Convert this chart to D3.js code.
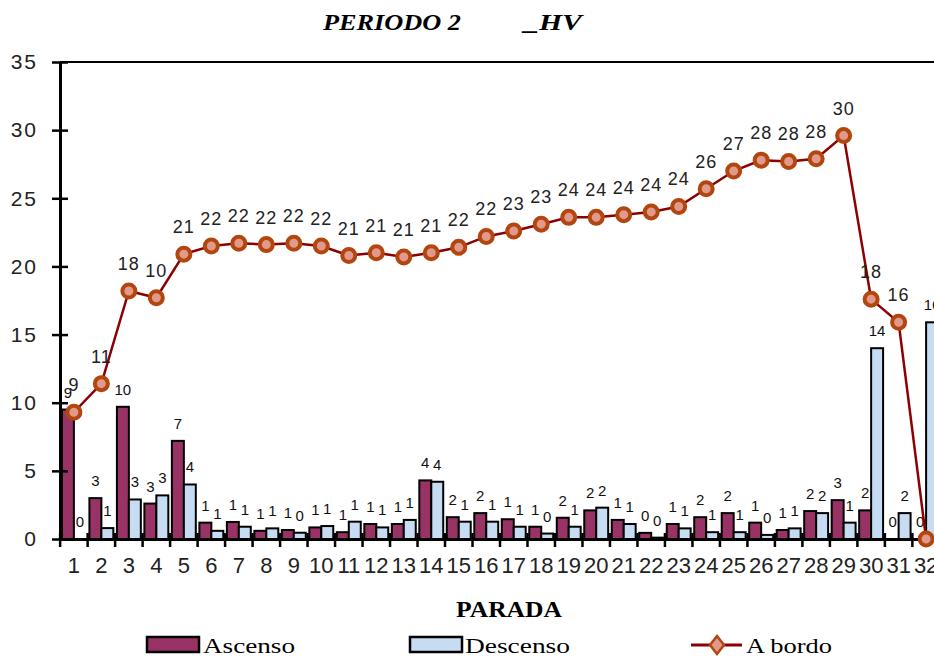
<!DOCTYPE html>
<html><head><meta charset="utf-8">
<script src="https://cdn.jsdelivr.net/npm/d3@7"></script>
<style>body{margin:0;background:#fff;overflow:hidden} svg{display:block}</style>
</head><body><svg id="c" width="934" height="660"></svg>
<script>
const categories = ["1","2","3","4","5","6","7","8","9","10","11","12","13","14","15","16","17","18","19","20","21","22","23","24","25","26","27","28","29","30","31","32"];
const ascenso  = [9.5,3.0,9.7,2.6,7.2,1.2,1.25,0.6,0.66,0.85,0.5,1.1,1.1,4.3,1.6,1.9,1.45,0.9,1.56,2.1,1.4,0.45,1.1,1.6,1.9,1.2,0.66,2.05,2.85,2.1,0,0];
const descenso = [0,0.8,2.9,3.2,4.0,0.6,0.9,0.78,0.46,0.95,1.27,0.85,1.4,4.2,1.27,1.27,0.9,0.4,0.9,2.3,1.1,0.1,0.78,0.5,0.5,0.3,0.78,1.9,1.2,14.0,1.9,15.9];
const aBordo   = [9.3,11.4,18.2,17.7,20.9,21.5,21.7,21.6,21.7,21.5,20.8,21.0,20.7,21.0,21.4,22.2,22.6,23.1,23.6,23.6,23.8,24.0,24.4,25.7,27.0,27.8,27.7,27.9,29.6,17.6,15.9,0];
const ascLabels  = ["9","3","10","3","7","1","1","1","1","1","1","1","1","4","2","2","1","1","2","2","1","0","1","2","2","1","1","2","3","2","0","0"];
const descLabels = ["0","1","3","3","4","1","1","1","0","1","1","1","1","4","1","1","1","0","1","2","1","0","1","1","1","0","1","2","1","14","2","16"];
const aBordoLabels = ["9","11","18","10","21","22","22","22","22","22","21","21","21","21","22","22","23","23","24","24","24","24","24","26","27","28","28","28","30","18","16",""];
const yTicks = [0,5,10,15,20,25,30,35];
const seriesNames = ["Ascenso","Descenso","A bordo"];
const titleParts = ["PERIODO 2","_HV"];
const xTitle = "PARADA";

const svg = d3.select("#c");
const L = 60, R = 940, T = 62, B = 539;
const sans = "'Liberation Sans', Arial, sans-serif";
const serif = "'Liberation Serif', 'Times New Roman', serif";
const ascColor = "#993366", descColor = "#c6dcf3", lineColor = "#8b0000";
const mkFill = "#e0998a", mkStroke = "#b3460e";

const x = d3.scaleBand().domain(categories).range([L, R]).paddingInner(0.13).paddingOuter(0.07);
const xs = d3.scaleBand().domain(["a","d"]).range([0, x.bandwidth()]);
const y = d3.scaleLinear().domain([0, 35]).range([B, T]);
const cx = c => x(c) + x.bandwidth() / 2;

// top border
svg.append("line").attr("x1", L).attr("x2", 934).attr("y1", T).attr("y2", T)
  .attr("stroke", "#000").attr("stroke-width", 2);

// bars
const g = svg.append("g");
categories.forEach((c, i) => {
  [["a", ascenso[i], ascColor, ascLabels[i]], ["d", descenso[i], descColor, descLabels[i]]].forEach(([k, v, col, lab]) => {
    const bx = x(c) + xs(k);
    g.append("rect").attr("x", bx).attr("y", y(v)).attr("width", xs.bandwidth())
      .attr("height", Math.max(0, B - y(v))).attr("fill", col).attr("stroke", "#000").attr("stroke-width", 2);
    g.append("text").attr("x", bx + xs.bandwidth() / 2).attr("y", y(v) - 12)
      .attr("text-anchor", "middle").attr("font-family", sans).attr("font-size", 15)
      .attr("fill", "#111").text(lab);
  });
});

// y axis
const ya = svg.append("g").attr("transform", `translate(${L},0)`)
  .call(d3.axisLeft(y).tickValues(yTicks).tickSizeInner(8).tickSizeOuter(0).tickPadding(14));
ya.select(".domain").attr("stroke-width", 3);
ya.selectAll(".tick line").attr("x1", -8).attr("x2", 8).attr("stroke-width", 2.5);
ya.selectAll(".tick text").attr("font-family", sans).attr("font-size", 21)
  .attr("letter-spacing", 2).attr("fill", "#222");

// x axis
const xa = svg.append("g").attr("transform", `translate(0,${B})`)
  .call(d3.axisBottom(x).tickSize(0).tickPadding(18));
xa.select(".domain").attr("stroke-width", 3);
xa.selectAll(".tick text").attr("font-family", sans).attr("font-size", 22).attr("fill", "#222");
const half = (x.step() - x.bandwidth()) / 2;
const bounds = categories.map(c => x(c) - half).concat([x(categories[categories.length - 1]) + x.bandwidth() + half]);
svg.append("g").selectAll("line").data(bounds).join("line")
  .attr("x1", d => d).attr("x2", d => d).attr("y1", B - 6).attr("y2", B + 8)
  .attr("stroke", "#000").attr("stroke-width", 2.5);

// line
const lineGen = d3.line().x((d, i) => cx(categories[i])).y(d => y(d));
svg.append("path").datum(aBordo).attr("d", lineGen).attr("fill", "none")
  .attr("stroke", lineColor).attr("stroke-width", 2.5);
svg.append("g").selectAll("circle").data(aBordo).join("circle")
  .attr("cx", (d, i) => cx(categories[i])).attr("cy", d => y(d)).attr("r", 6.5)
  .attr("fill", mkFill).attr("stroke", mkStroke).attr("stroke-width", 4);
svg.append("g").selectAll("text").data(aBordo).join("text")
  .attr("x", (d, i) => cx(categories[i])).attr("y", d => y(d) - 21)
  .attr("text-anchor", "middle").attr("font-family", sans).attr("font-size", 18)
  .attr("letter-spacing", 1).attr("fill", "#222").text((d, i) => aBordoLabels[i]);

// title
svg.append("text").attr("x", 323).attr("y", 30).attr("font-family", serif).attr("font-size", 24)
  .attr("font-weight", "bold").attr("font-style", "italic").attr("textLength", 138)
  .attr("lengthAdjust", "spacingAndGlyphs").text(titleParts[0]);
svg.append("text").attr("x", 524).attr("y", 30).attr("font-family", serif).attr("font-size", 24)
  .attr("font-weight", "bold").attr("font-style", "italic").attr("textLength", 58)
  .attr("lengthAdjust", "spacingAndGlyphs").text(titleParts[1]);

// x title
svg.append("text").attr("x", 456).attr("y", 617).attr("font-family", serif).attr("font-size", 24)
  .attr("font-weight", "bold").attr("textLength", 106).attr("lengthAdjust", "spacingAndGlyphs").text(xTitle);

// legend
const lg = svg.append("g");
lg.append("rect").attr("x", 147).attr("y", 637).attr("width", 52).attr("height", 15)
  .attr("fill", ascColor).attr("stroke", "#000").attr("stroke-width", 2.5);
lg.append("text").attr("x", 203).attr("y", 653).attr("font-family", serif).attr("font-size", 21)
  .attr("textLength", 92).attr("lengthAdjust", "spacingAndGlyphs").text(seriesNames[0]);
lg.append("rect").attr("x", 410).attr("y", 637).attr("width", 52).attr("height", 15)
  .attr("fill", descColor).attr("stroke", "#000").attr("stroke-width", 2.5);
lg.append("text").attr("x", 465).attr("y", 653).attr("font-family", serif).attr("font-size", 21)
  .attr("textLength", 105).attr("lengthAdjust", "spacingAndGlyphs").text(seriesNames[1]);
lg.append("line").attr("x1", 691).attr("x2", 742).attr("y1", 645).attr("y2", 645)
  .attr("stroke", lineColor).attr("stroke-width", 3);
lg.append("path").attr("d", "M717,636 L724,645 L717,654 L710,645 Z")
  .attr("fill", mkFill).attr("stroke", mkStroke).attr("stroke-width", 2.5);
lg.append("text").attr("x", 746).attr("y", 653).attr("font-family", serif).attr("font-size", 21)
  .attr("textLength", 86).attr("lengthAdjust", "spacingAndGlyphs").text(seriesNames[2]);
</script></body></html>
